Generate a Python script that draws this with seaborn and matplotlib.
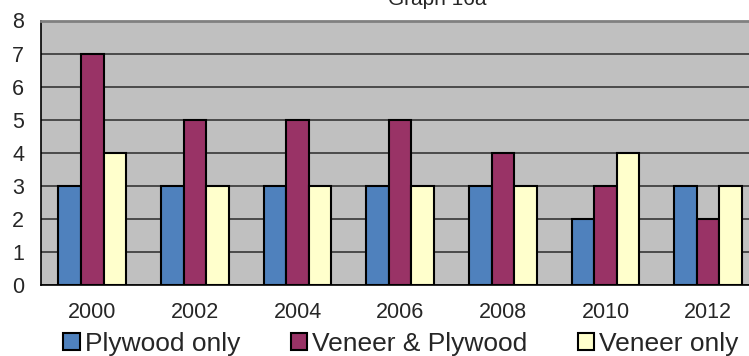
import matplotlib
matplotlib.use("Agg")
import matplotlib.pyplot as plt
from matplotlib.patches import Patch
from matplotlib.ticker import FixedLocator, NullFormatter
import seaborn as sns
import pandas as pd

years = ["2000", "2002", "2004", "2006", "2008", "2010", "2012"]
series_names = ["Plywood only", "Veneer & Plywood", "Veneer only"]
plywood_only = [3, 3, 3, 3, 3, 2, 3]
veneer_and_plywood = [7, 5, 5, 5, 4, 3, 2]
veneer_only = [4, 3, 3, 3, 3, 4, 3]
colors = ["#4F81BD", "#993366", "#FFFFCC"]
title = "Graph 16a"

df = pd.DataFrame({
    "Year": years * 3,
    "Count": plywood_only + veneer_and_plywood + veneer_only,
    "Series": [series_names[0]] * 7 + [series_names[1]] * 7 + [series_names[2]] * 7,
})

sns.set_style("white")
plt.rcParams["font.family"] = ["Liberation Sans", "DejaVu Sans"]

W, H = 749, 356
fig = plt.figure(figsize=(W / 100, H / 100), dpi=100)
left, right, top, bottom = 41, 759.4, 20.5, 285
ax = fig.add_axes([left / W, (H - bottom) / H, (right - left) / W, (bottom - top) / H])
ax.set_facecolor("#C0C0C0")

sns.barplot(data=df, x="Year", y="Count", hue="Series", order=years,
            hue_order=series_names, palette=colors, width=0.66, gap=0,
            edgecolor="black", linewidth=1.5, saturation=1, legend=False,
            ax=ax, zorder=3)

ax.set_ylim(0, 8)
ax.set_xlim(-0.5, 6.5)
ax.set_yticks(range(0, 9))
ax.yaxis.grid(True, color="#2a2a2a", linewidth=1.1, zorder=1)
ax.set_axisbelow(True)
ax.set_xlabel("")
ax.set_ylabel("")

# category labels centred, tick marks between categories
ax.xaxis.set_minor_locator(FixedLocator([i - 0.5 for i in range(8)]))
ax.xaxis.set_minor_formatter(NullFormatter())
ax.tick_params(axis="x", which="major", length=0, labelsize=15.5, pad=12)
ax.tick_params(axis="x", which="minor", length=6, width=1, color="black", direction="out")
ax.tick_params(axis="y", length=6, width=1, color="black", direction="out", labelsize=15.5, pad=6)

for side in ["left", "bottom"]:
    ax.spines[side].set_color("black")
    ax.spines[side].set_linewidth(1.2)
ax.spines["right"].set_visible(False)
ax.spines["top"].set_color("#808080")
ax.spines["top"].set_linewidth(2)

fig.text(437 / W, 1 - 5 / H, title, ha="center", va="baseline", fontsize=15)

handles = [Patch(facecolor=c, edgecolor="black", linewidth=1.5) for c in colors]
fig.legend(handles, series_names, loc="center", bbox_to_anchor=(401 / W, 12 / H),
           ncol=3, frameon=False, fontsize=19, handlelength=0.62, handleheight=0.62,
           handletextpad=0.2, columnspacing=1.9, borderpad=0, borderaxespad=0)

fig.savefig("out.png", dpi=100)
